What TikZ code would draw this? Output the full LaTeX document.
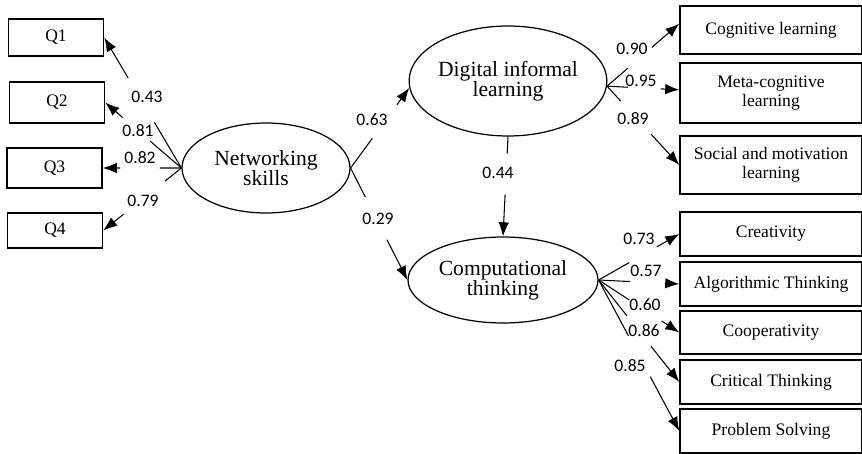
\documentclass[tikz,border=0pt]{standalone}
\usepackage{fontspec}
\setmainfont{Liberation Serif}
\newfontfamily\numfont{Carlito}
\usetikzlibrary{shapes.geometric,arrows.meta,calc}

\tikzset{
  obs/.style={draw, line width=0.8pt, align=center, inner sep=0pt, font=\fontsize{10}{11}\selectfont},
  latent/.style={draw, ellipse, line width=0.7pt, align=center, inner sep=0pt, font=\fontsize{12.3}{11.5}\selectfont},
  coef/.style={inner sep=0pt, font=\numfont\fontsize{10}{12}\selectfont},
  >={Latex[length=8pt,width=6pt]}
}

\begin{document}
\begin{tikzpicture}[x=0.02cm, y=-0.02cm, line width=0.6pt]
  \useasboundingbox (0,0) rectangle (862,453);

  \node[obs, minimum width=1.9cm, minimum height=0.74cm] (q1) at (56,37.5) {Q1};
  \node[obs, minimum width=1.9cm, minimum height=0.82cm] (q2) at (57,102.5) {Q2};
  \node[obs, minimum width=1.9cm, minimum height=0.8cm] (q3) at (54.5,168) {Q3};
  \node[obs, minimum width=1.9cm, minimum height=0.7cm] (q4) at (55,230.5) {Q4};

  \node[latent, minimum width=3.36cm, minimum height=1.8cm] (ns) at (266,168) {Networking\\skills};
  \node[latent, minimum width=3.88cm, minimum height=2.2cm] (dil) at (508,81) {Digital informal\\learning};
  \node[latent, minimum width=3.8cm, minimum height=1.72cm] (ct) at (503,280) {Computational\\thinking};

  \node[obs, minimum width=3.64cm, minimum height=0.96cm] (cog) at (771,30) {Cognitive learning};
  \node[obs, minimum width=3.64cm, minimum height=1.2cm] (meta) at (771,93) {Meta-cognitive\\learning};
  \node[obs, minimum width=3.64cm, minimum height=1.16cm] (soc) at (771,165) {Social and motivation\\learning};
  \node[obs, minimum width=3.64cm, minimum height=0.88cm] (cre) at (771,234) {Creativity};
  \node[obs, minimum width=3.64cm, minimum height=0.88cm] (alg) at (771,284) {Algorithmic Thinking};
  \node[obs, minimum width=3.64cm, minimum height=0.86cm] (coop) at (771,332.5) {Cooperativity};
  \node[obs, minimum width=3.64cm, minimum height=0.88cm] (crit) at (771,382) {Critical Thinking};
  \node[obs, minimum width=3.64cm, minimum height=0.88cm] (prob) at (771,431) {Problem Solving};

  \node[coef] (l43) at (147,97) {0.43};
  \node[coef] (l81) at (138,131) {0.81};
  \node[coef] (l82) at (140,158) {0.82};
  \node[coef] (l79) at (143,201) {0.79};
  \node[coef] (l63) at (372,120) {0.63};
  \node[coef] (l29) at (378,219) {0.29};
  \node[coef] (l44) at (498,173) {0.44};
  \node[coef] (l90) at (632,49) {0.90};
  \node[coef] (l95) at (641,81) {0.95};
  \node[coef] (l89) at (633,119) {0.89};
  \node[coef] (l73) at (639,239) {0.73};
  \node[coef] (l57) at (646,271) {0.57};
  \node[coef] (l60) at (645,305) {0.60};
  \node[coef] (l86) at (644,331) {0.86};
  \node[coef] (l85) at (630,366) {0.85};

  \draw (ns.west) -- ($(ns.west)!.35!(q1.east)$);
  \draw[->] ($(ns.west)!.69!(q1.east)$) -- (q1.east);
  \draw (ns.west) -- ($(ns.west)!.41!(q2.east)$);
  \draw[->] ($(ns.west)!.77!(q2.east)$) -- (q2.east);
  \draw (ns.west) -- ($(ns.west)!.275!(q3.east)$);
  \draw[->] ($(ns.west)!.78!(q3.east)$) -- (q3.east);
  \draw (ns.west) -- ($(ns.west)!.21!(q4.east)$);
  \draw[->] ($(ns.west)!.74!(q4.east)$) -- (q4.east);

  \draw (ns.east) -- ($(ns.east)!.37!(dil.184)$);
  \draw[->] ($(ns.east)!.79!(dil.184)$) -- (dil.184);
  \draw (ns.east) -- ($(ns.east)!.26!(ct.west)$);
  \draw[->] ($(ns.east)!.64!(ct.west)$) -- (ct.west);
  \draw (dil.south) -- ($(dil.south)!.17!(ct.north)$);
  \draw[->] ($(dil.south)!.58!(ct.north)$) -- (ct.north);

  \draw (dil.-3) -- ($(dil.-3)!.29!(cog.176)$);
  \draw[->] ($(dil.-3)!.62!(cog.176)$) -- (cog.176);
  \draw (dil.-3) -- ($(dil.-3)!.29!(meta.178)$);
  \draw[->] ($(dil.-3)!.74!(meta.178)$) -- (meta.178);
  \draw (dil.-3) -- ($(dil.-3)!.19!(soc.west)$);
  \draw[->] ($(dil.-3)!.61!(soc.west)$) -- (soc.west);

  \draw (ct.east) -- ($(ct.east)!.38!(cre.west)$);
  \draw[->] ($(ct.east)!.72!(cre.west)$) -- (cre.west);
  \draw (ct.east) -- ($(ct.east)!.39!(alg.west)$);
  \draw[->] ($(ct.east)!.82!(alg.west)$) -- (alg.west);
  \draw (ct.east) -- ($(ct.east)!.38!(coop.west)$);
  \draw[->] ($(ct.east)!.78!(coop.west)$) -- (coop.west);
  \draw (ct.east) -- ($(ct.east)!.35!(crit.west)$);
  \draw[->] ($(ct.east)!.65!(crit.west)$) -- (crit.west);
  \draw (ct.east) -- ($(ct.east)!.37!(prob.west)$);
  \draw[->] ($(ct.east)!.64!(prob.west)$) -- (prob.west);
\end{tikzpicture}
\end{document}
